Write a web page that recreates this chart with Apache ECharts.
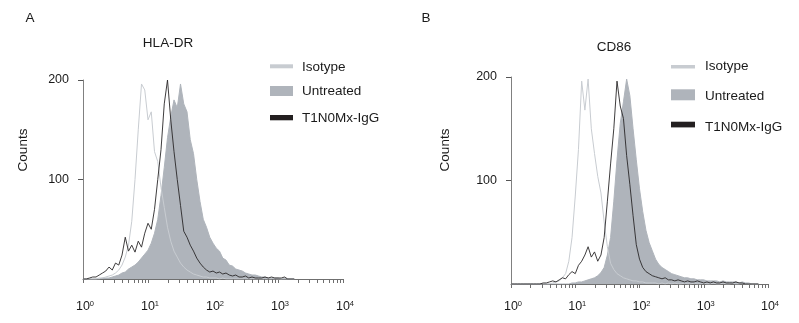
<!DOCTYPE html>
<html><head><meta charset="utf-8">
<script src="https://cdn.jsdelivr.net/npm/echarts@6/dist/echarts.min.js"></script>
<style>html,body{margin:0;padding:0;background:#fff}#c{width:799px;height:323px}</style>
</head><body><div id="c"></div>
<script>
// ---- data ----
const BIN_DECADES = 0.05; // histogram channel width, in decades of the log axis
const xTickExponents = [0, 1, 2, 3, 4];
const minorMultipliers = [2, 3, 4, 5, 6, 7, 8, 9];
const yTickValues = [100, 200];
const seriesNames = ['Isotype', 'Untreated', 'T1N0Mx-IgG'];
const panelTitles = ['HLA-DR', 'CD86'];
const panelLetters = ['A', 'B'];

const isotypeA = [0,0,0,0,0, 1,1,2,3,4, 6,9,14,22,34, 58,100,150,196,190, 160,168,128,118,92,
  72,52,38,28,22, 16,12,9,7,5, 4,3,2,2,1, 1,1,0,1,0, 0,0,0,0,0, 0,0,0,0,0, 0,0,0,0,0, 0,0,0,0,0,0];
const untreatedA = [0,0,0,0,0, 0,1,1,1,2, 3,4,6,7,10, 12,14,17,21,25, 29,36,46,60,84,
  112,142,163,180,172, 196,176,168,140,126, 100,78,60,52,42, 36,31,28,21,19, 14,13,10,9,8,
  6,5,4,4,3, 2,2,1,1,1, 1,0,1,0,0,0];
const t1n0mxA = [0,0,1,2,2, 4,6,8,12,9, 16,14,24,42,28, 34,27,38,32,46, 56,50,70,100,130,
  176,200,160,128,100, 74,48,42,34,28, 21,16,12,9,7, 8,6,7,5,6, 4,3,4,2,2, 3,1,2,1,1,
  1,2,1,2,1, 1,1,2,0,0,0];

const isotypeB = [0,0,0,0,0, 0,0,0,0,0, 0,0,0,1,2, 3,6,10,22,45, 85,130,196,168,198,
  150,126,104,88,60, 36,20,14,10,8, 6,5,4,3,3, 2,2,1,1,1, 1,0,1,0,1, 0,1,0,0,1,
  0,0,1,0,0, 1,0,0,1,0, 0,1,0,0,1, 0,0,1,0,0, 0,0,0];
const untreatedB = [0,0,0,0,0, 0,0,0,0,0, 0,0,0,0,0, 0,0,0,0,1, 1,2,2,3,4,
  5,6,8,11,16, 28,45,80,120,155, 176,198,182,150,120, 92,70,52,40,32, 24,19,16,14,12,
  10,9,8,7,6, 6,5,5,4,4, 4,3,3,3,3, 2,3,2,2,2, 2,1,2,1,1, 0,0,0];
const t1n0mxB = [0,0,0,0,0, 0,0,0,0,0, 1,1,2,3,2, 4,6,5,9,12, 10,18,22,28,36,
  26,31,22,28,45, 80,116,150,196,172, 160,124,96,66,38, 24,16,12,10,8, 7,6,5,6,4,
  4,3,4,3,2, 3,2,2,3,2, 1,2,1,2,1, 1,2,1,1,1, 2,1,1,0,0, 0,0,0];

// ---- helpers ----
const toPairs = arr => arr.map((v, k) => [Math.pow(10, k * BIN_DECADES), v]);
const minorTickValues = [];
xTickExponents.slice(0, -1).forEach(e => minorMultipliers.forEach(m => minorTickValues.push([m * Math.pow(10, e), 0])));

const FONT = '"Liberation Sans", Arial, sans-serif';
const TXT = '#1a1a1a';
const COL_ISO = '#c8ccd1', COL_UNT = '#afb4bb', COL_T1 = '#2a2829';

const grids = [
  { left: 83, top: 80, width: 260, height: 199 },
  { left: 511, top: 77, width: 257, height: 207 }
];
const labelMargins = [21, 16];

function xAxisFor(i) {
  return {
    type: 'log', logBase: 10, min: 1, max: 10000, gridIndex: i,
    splitLine: { show: false },
    axisLine: { lineStyle: { color: '#6f6f6f', width: 1 } },
    axisTick: { length: 4, lineStyle: { color: '#6f6f6f' } },
    axisLabel: {
      margin: labelMargins[i], color: TXT, fontFamily: FONT,
      formatter: v => '{p|}{b|10}{s|' + Math.round(Math.log10(v)) + '}',
      rich: {
        p: { width: 4 },
        b: { fontSize: 12.5, fontFamily: FONT, color: TXT, lineHeight: 14 },
        s: { fontSize: 7.5, fontFamily: FONT, color: TXT, verticalAlign: 'top', lineHeight: 14 }
      }
    }
  };
}
function yAxisFor(i) {
  return {
    type: 'value', min: 0, max: 200, interval: 100, gridIndex: i,
    splitLine: { show: false },
    axisLine: { show: true, lineStyle: { color: '#808080', width: 1 } },
    axisTick: { show: true, length: 5, customValues: yTickValues, lineStyle: { color: '#555' } },
    axisLabel: { margin: 14, color: TXT, fontSize: 12.5, fontFamily: FONT, customValues: yTickValues }
  };
}
function panelSeries(i, iso, unt, t1) {
  return [
    { name: seriesNames[1], type: 'line', xAxisIndex: i, yAxisIndex: i, data: toPairs(unt), symbol: 'none',
      lineStyle: { color: COL_UNT, width: 1 }, areaStyle: { color: COL_UNT, opacity: 1 }, z: 2, silent: true, animation: false },
    { name: seriesNames[0], type: 'line', xAxisIndex: i, yAxisIndex: i, data: toPairs(iso), symbol: 'none',
      lineStyle: { color: COL_ISO, width: 1 }, z: 3, silent: true, animation: false },
    { name: seriesNames[2], type: 'line', xAxisIndex: i, yAxisIndex: i, data: toPairs(t1), symbol: 'none',
      lineStyle: { color: COL_T1, width: 1, opacity: 0.9 }, z: 4, silent: true, animation: false },
    { type: 'custom', xAxisIndex: i, yAxisIndex: i, data: minorTickValues, clip: false, silent: true, animation: false, z: 5,
      renderItem: (params, api) => {
        const p = api.coord([api.value(0), 0]);
        return { type: 'line', shape: { x1: Math.round(p[0]) + 0.5, y1: p[1], x2: Math.round(p[0]) + 0.5, y2: p[1] + 4 },
                 style: { stroke: '#6f6f6f', lineWidth: 1 } };
      } }
  ];
}

function txt(text, x, y, opts) {
  return Object.assign({ type: 'text', x: x, y: y, silent: true,
    style: Object.assign({ text: text, fontSize: 13.5, fontFamily: FONT, fill: TXT, align: 'center', verticalAlign: 'middle' }, (opts && opts.style) || {}) },
    opts && opts.rotation ? { rotation: opts.rotation } : {});
}
function legendItems(x0, textX, rows) {
  const cols = [COL_ISO, COL_UNT, '#231f20'];
  const out = [];
  rows.forEach((r, j) => {
    out.push({ type: 'rect', silent: true, shape: { x: x0, y: r[0], width: r[1], height: r[2] }, style: { fill: cols[j] } });
    out.push(txt(seriesNames[j], textX, r[3], { style: { align: 'left' } }));
  });
  return out;
}

const graphics = [
  txt(panelLetters[0], 30, 18),
  txt(panelLetters[1], 426, 18),
  txt(panelTitles[0], 168, 43),
  txt(panelTitles[1], 614, 47),
  txt('Counts', 23, 150, { rotation: Math.PI / 2 }),
  txt('Counts', 445, 150, { rotation: Math.PI / 2 })
].concat(
  legendItems(270, 302, [[64.3, 23, 4, 67.5], [86, 23, 10, 91.5], [115, 23, 5.3, 118]]),
  legendItems(671, 705, [[65, 24, 3.5, 66.5], [89.3, 24, 11, 96], [121.7, 24, 5.7, 127]])
);

const chart = echarts.init(document.getElementById('c'), null, { renderer: 'canvas' });
chart.setOption({
  backgroundColor: '#fff',
  animation: false,
  grid: grids,
  xAxis: [xAxisFor(0), xAxisFor(1)],
  yAxis: [yAxisFor(0), yAxisFor(1)],
  series: panelSeries(0, isotypeA, untreatedA, t1n0mxA).concat(panelSeries(1, isotypeB, untreatedB, t1n0mxB)),
  graphic: graphics
});
</script></body></html>
